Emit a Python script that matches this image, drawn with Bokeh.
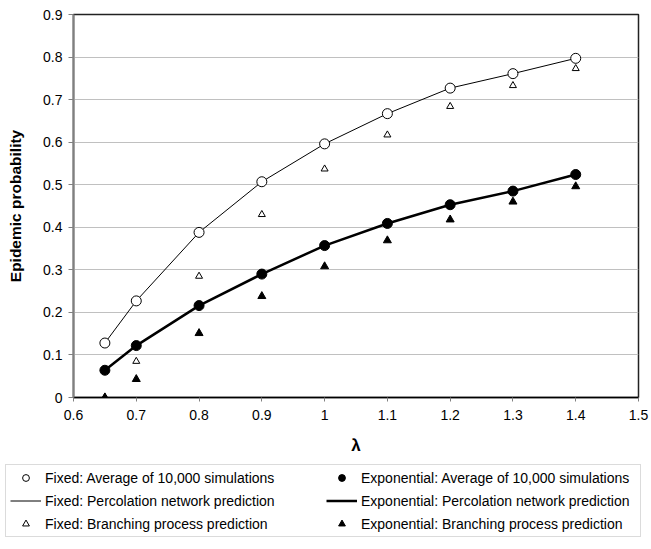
from bokeh.plotting import figure
from bokeh.layouts import column
from bokeh.models import Legend, LegendItem, FixedTicker, Range1d
from bokeh.embed import file_html
from bokeh.resources import INLINE

# ---- data ----
lam = [0.65, 0.7, 0.8, 0.9, 1.0, 1.1, 1.2, 1.3, 1.4]
fixed_sim = [0.128, 0.227, 0.388, 0.507, 0.596, 0.667, 0.727, 0.761, 0.797]
fixed_perc = [0.128, 0.227, 0.388, 0.507, 0.596, 0.667, 0.727, 0.761, 0.797]
fixed_branch = [0.0, 0.085, 0.285, 0.430, 0.537, 0.617, 0.684, 0.733, 0.773]
exp_sim = [0.064, 0.122, 0.216, 0.290, 0.357, 0.409, 0.453, 0.485, 0.524]
exp_perc = [0.064, 0.122, 0.216, 0.290, 0.357, 0.409, 0.453, 0.485, 0.524]
exp_branch = [0.0, 0.043, 0.151, 0.238, 0.308, 0.369, 0.418, 0.460, 0.496]

x_ticks = [0.6, 0.7, 0.8, 0.9, 1.0, 1.1, 1.2, 1.3, 1.4, 1.5]
x_tick_labels = ["0.6", "0.7", "0.8", "0.9", "1", "1.1", "1.2", "1.3", "1.4", "1.5"]
y_ticks = [0.0, 0.1, 0.2, 0.3, 0.4, 0.5, 0.6, 0.7, 0.8, 0.9]
y_tick_labels = ["0", "0.1", "0.2", "0.3", "0.4", "0.5", "0.6", "0.7", "0.8", "0.9"]

labels = [
    "Fixed: Average of 10,000 simulations",
    "Fixed: Percolation network prediction",
    "Fixed: Branching process prediction",
    "Exponential: Average of 10,000 simulations",
    "Exponential: Percolation network prediction",
    "Exponential: Branching process prediction",
]

FONT = "Liberation Sans"

# styles shared by the chart and its legend
ST_FC = dict(marker="circle", fill_color="white", line_color="black", line_width=1)
ST_EC = dict(marker="circle", fill_color="black", line_color="black")
ST_FT = dict(marker="triangle", fill_color="white", line_color="black", line_width=1)
ST_ET = dict(marker="triangle", fill_color="black", line_color="black")
ST_FL = dict(line_color="black", line_width=1)
ST_EL = dict(line_color="black", line_width=2.5)

p = figure(
    frame_width=565, frame_height=383,
    min_border_left=73, min_border_right=13, min_border_top=14, min_border_bottom=63,
    x_range=Range1d(0.6, 1.5), y_range=Range1d(0, 0.9),
    output_backend="svg", toolbar_location=None,
    background_fill_color="white", border_fill_color="white",
)

p.outline_line_color = "#222222"
p.outline_line_width = 1.5

p.xgrid.grid_line_color = None
p.ygrid.grid_line_color = "#c0c0c0"
p.ygrid.grid_line_width = 1
p.ygrid.ticker = FixedTicker(ticks=y_ticks)

p.xaxis.ticker = FixedTicker(ticks=x_ticks)
p.yaxis.ticker = FixedTicker(ticks=y_ticks)
p.xaxis.major_label_overrides = {t: l for t, l in zip(x_ticks, x_tick_labels)}
p.yaxis.major_label_overrides = {t: l for t, l in zip(y_ticks, y_tick_labels)}
for ax in (p.xaxis[0], p.yaxis[0]):
    ax.minor_tick_line_color = None
    ax.major_tick_in = 0
    ax.major_label_text_font = FONT
    ax.major_label_text_font_size = "14px"
    ax.major_label_text_color = "black"
    ax.axis_label_text_font = FONT
    ax.axis_label_text_font_style = "bold"
    ax.axis_label_text_font_size = "15.5px"
    ax.axis_label_text_color = "black"

p.xaxis.axis_label = "λ"
p.xaxis.axis_label_text_font_size = "17px"
p.xaxis.axis_line_color = "black"
p.xaxis.axis_line_width = 1.5
p.xaxis.major_tick_line_color = "#808080"
p.xaxis.major_tick_out = 4
p.xaxis.major_label_standoff = 8
p.xaxis.axis_label_standoff = 13

p.yaxis.axis_label = "Epidemic probability"
p.yaxis.axis_line_color = "#808080"
p.yaxis.axis_line_width = 2
p.yaxis.major_tick_line_color = "#808080"
p.yaxis.major_tick_out = 5
p.yaxis.major_label_standoff = 6
p.yaxis.axis_label_standoff = 16

p.line(lam, fixed_perc, **ST_FL)
p.line(lam, exp_perc, **ST_EL)
p.scatter(lam, fixed_branch, size=7, **ST_FT)
p.scatter(lam, exp_branch, size=8, **ST_ET)
p.scatter(lam, fixed_sim, size=10, **ST_FC)
p.scatter(lam, exp_sim, size=10, **ST_EC)

# ---- legend strip below the chart ----
# The same series are attached here only so the legend can draw their swatches;
# the strip's ranges lie outside the data, so no mark is visible in it.
lg = figure(
    frame_width=651, frame_height=89, min_border=0,
    x_range=Range1d(10, 11), y_range=Range1d(10, 11),
    x_axis_location=None, y_axis_location=None,
    output_backend="svg", toolbar_location=None,
    background_fill_color="white", border_fill_color="white",
)
lg.outline_line_color = None
lg.grid.visible = False

l_fc = lg.scatter(lam, fixed_sim, size=10, **ST_FC)
l_fl = lg.line(lam, fixed_perc, **ST_FL)
l_ft = lg.scatter(lam, fixed_branch, size=7, **ST_FT)
l_ec = lg.scatter(lam, exp_sim, size=10, **ST_EC)
l_el = lg.line(lam, exp_perc, **ST_EL)
l_et = lg.scatter(lam, exp_branch, size=8, **ST_ET)

legend = Legend(
    items=[
        LegendItem(label=labels[0], renderers=[l_fc]),
        LegendItem(label=labels[1], renderers=[l_fl]),
        LegendItem(label=labels[2], renderers=[l_ft]),
        LegendItem(label=labels[3], renderers=[l_ec]),
        LegendItem(label=labels[4], renderers=[l_el]),
        LegendItem(label=labels[5], renderers=[l_et]),
    ],
    ncols=2,
    location=(5, 12),
    glyph_width=31, glyph_height=17,
    label_standoff=4, label_width=275, spacing=6, padding=4, margin=0,
    label_text_font=FONT, label_text_font_size="14px", label_text_color="black",
    border_line_color="#b8b8b8", border_line_width=1,
    background_fill_color="white", background_fill_alpha=1,
)
lg.add_layout(legend, "center")

layout = column(p, lg, spacing=0)
open("out.html", "w").write(file_html(layout, INLINE))
